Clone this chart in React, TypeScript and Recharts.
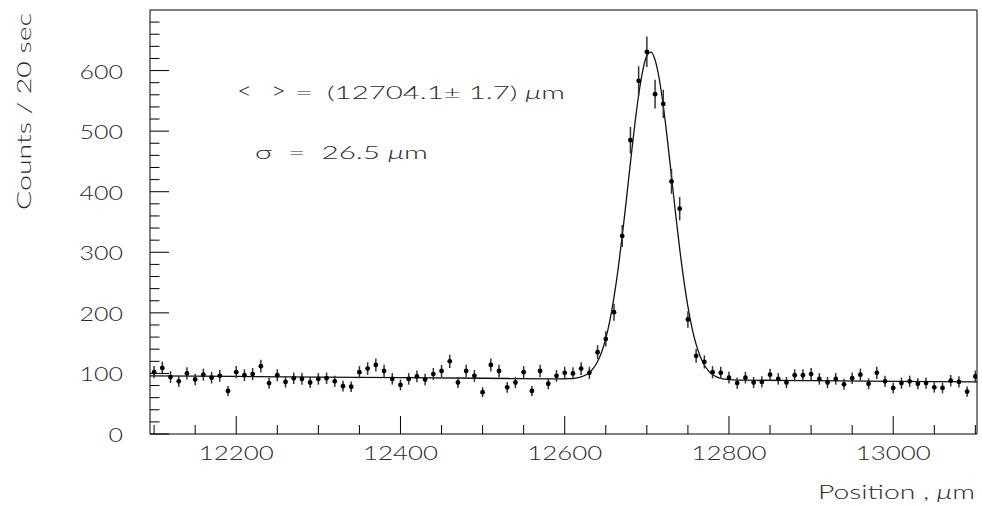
import React from "react";
import { ComposedChart, Scatter, Line, XAxis, YAxis, ErrorBar, ReferenceArea } from "recharts";

// histogram: 10 um bins, first bin centred at 12100
const binStart = 12100;
const binWidth = 10;
const counts = [
  102, 109, 94, 87, 100, 90, 98, 93, 96, 71,
  102, 97, 99, 112, 84, 97, 86, 92, 91, 85,
  91, 92, 87, 79, 78, 102, 108, 114, 104, 91,
  81, 91, 95, 90, 99, 104, 120, 85, 104, 96,
  69, 114, 104, 77, 85, 102, 71, 104, 83, 96,
  101, 100, 108, 101, 135, 157, 201, 327, 485, 583,
  631, 561, 545, 417, 372, 189, 129, 119, 102, 101,
  93, 84, 93, 85, 86, 98, 91, 85, 97, 97,
  99, 91, 85, 91, 82, 92, 98, 83, 101, 87,
  76, 84, 87, 83, 84, 77, 76, 88, 86, 70,
  95,
];

// fitted curve (gauss + background)
const fitPositions = [
  12095, 12200, 12300, 12400, 12500, 12590, 12600, 12605, 12610, 12615,
  12620, 12625, 12630, 12635, 12640, 12645, 12650, 12655, 12660, 12665,
  12670, 12675, 12680, 12685, 12690, 12695, 12700, 12705, 12710, 12715,
  12720, 12725, 12730, 12735, 12740, 12745, 12750, 12755, 12760, 12765,
  12770, 12775, 12780, 12785, 12790, 12795, 12800, 12810, 12900, 13000,
  13102,
];
const fitValues = [
  96.0, 95.0, 94.0, 93.0, 92.0, 91.1, 91.2, 91.4, 91.9, 92.7,
  94.3, 97.0, 101.6, 108.7, 119.6, 135.5, 157.8, 187.6, 225.9, 272.5,
  326.7, 386.2, 448.0, 507.3, 559.7, 600.0, 624.6, 630.6, 617.6, 586.9,
  541.7, 486.1, 425.2, 363.7, 305.7, 253.9, 210.2, 174.9, 147.9, 127.9,
  113.9, 104.3, 98.1, 94.2, 91.9, 90.5, 89.8, 89.1, 88.0, 87.0,
  86.0,
];

const xLabels = [12200, 12400, 12600, 12800, 13000];
const xTicks = [
  12100, 12150, 12200, 12250, 12300, 12350, 12400, 12450, 12500, 12550, 12600,
  12650, 12700, 12750, 12800, 12850, 12900, 12950, 13000, 13050, 13100,
];
const yLabels = [0, 100, 200, 300, 400, 500, 600];
const yTicks = [
  0, 20, 40, 60, 80, 100, 120, 140, 160, 180, 200, 220, 240, 260, 280, 300, 320, 340,
  360, 380, 400, 420, 440, 460, 480, 500, 520, 540, 560, 580, 600, 620, 640, 660, 680,
];

const points = counts.map((c, i) => ({ x: binStart + i * binWidth, y: c, err: Math.sqrt(c) }));
const fit = fitPositions.map((x, i) => ({ x, y: fitValues[i] }));

const FONT = "Lato, 'Open Sans', 'DejaVu Sans', sans-serif";
const TXT = "#2a2a2a";
const W = 300;

function XTick(props: any) {
  const { x, y, payload } = props;
  const major = xLabels.includes(payload.value);
  return (
    <g>
      <line x1={x} x2={x} y1={y} y2={y - (major ? 18 : 9)} stroke="#000" />
      {major && (
        <text x={x} y={y + 26} textAnchor="middle" fontFamily={FONT} fontWeight={W} fontSize={19}
          fill={TXT} textLength={75} lengthAdjust="spacingAndGlyphs">
          {payload.value}
        </text>
      )}
    </g>
  );
}

function YTick(props: any) {
  const { x, y, payload } = props;
  const major = payload.value % 100 === 0;
  const label = String(payload.value);
  return (
    <g>
      <line x1={x} x2={x + (major ? 19 : 9.5)} y1={y} y2={y} stroke="#000" />
      {yLabels.includes(payload.value) && (
        <text x={x - 27} y={y + 8} textAnchor="end" fontFamily={FONT} fontWeight={W} fontSize={19}
          fill={TXT} textLength={14.5 * label.length} lengthAdjust="spacingAndGlyphs">
          {label}
        </text>
      )}
    </g>
  );
}

const txt = { fontFamily: FONT, fontWeight: W, fill: TXT } as const;
const sp = "\u00a0";

export default function App() {
  return (
    <div style={{ position: "absolute", left: 0, top: 0, width: 982, height: 506, background: "#fff" }}>
      <ComposedChart width={982} height={506} margin={{ top: 10, right: 5, bottom: 0, left: 0 }}>
        <XAxis dataKey="x" type="number" domain={[12095, 13102]} allowDataOverflow ticks={xTicks}
          interval={0} tick={<XTick />} tickLine={false} tickSize={0} tickMargin={0} axisLine={false} height={72} />
        <YAxis type="number" domain={[0, 700]} allowDataOverflow ticks={yTicks} interval={0}
          tick={<YTick />} tickLine={false} tickSize={0} tickMargin={0} axisLine={false} width={150} />
        <ReferenceArea x1={12095} x2={13102} y1={0} y2={700} fill="none" stroke="#000" strokeWidth={1} fillOpacity={0} />
        <Line data={fit} dataKey="y" type="monotone" stroke="#111" strokeWidth={1.3} dot={false}
          activeDot={false} isAnimationActive={false} />
        <Scatter data={points} dataKey="y" isAnimationActive={false}
          shape={(p: any) => <circle cx={p.cx} cy={p.cy} r={2.4} fill="#000" />}>
          <ErrorBar dataKey="err" direction="y" width={0} stroke="#333" strokeWidth={1.5} isAnimationActive={false} />
        </Scatter>
      </ComposedChart>
      <svg width={982} height={506} style={{ position: "absolute", left: 0, top: 0, pointerEvents: "none" }}>
        <text x={31} y={210} transform="rotate(-90 31 210)" fontSize={19} textLength={197}
          lengthAdjust="spacingAndGlyphs" {...txt}>
          {`Counts${sp}/${sp}20${sp}sec`}
        </text>
        <text x={975} y={499} textAnchor="end" fontSize={19} textLength={157}
          lengthAdjust="spacingAndGlyphs" {...txt}>
          {`Position${sp},${sp}`}<tspan fontStyle="italic">μ</tspan>m
        </text>
        <text x={237} y={99} fontSize={24} textLength={15} lengthAdjust="spacingAndGlyphs" {...txt}>{"<"}</text>
        <text x={271} y={99} fontSize={24} textLength={15} lengthAdjust="spacingAndGlyphs" {...txt}>{">"}</text>
        <text x={295} y={98.5} fontSize={18.5} textLength={18} lengthAdjust="spacingAndGlyphs" {...txt}>{"="}</text>
        <text x={327} y={98.5} fontSize={18.5} textLength={238} lengthAdjust="spacingAndGlyphs" {...txt}>
          {`(12704.1±${sp}1.7)${sp}`}<tspan fontStyle="italic">μ</tspan>m
        </text>
        <text x={255} y={159} fontSize={18.5} textLength={173} lengthAdjust="spacingAndGlyphs" {...txt}>
          {`σ${sp}${sp}=${sp}${sp}26.5${sp}`}<tspan fontStyle="italic">μ</tspan>m
        </text>
      </svg>
    </div>
  );
}
